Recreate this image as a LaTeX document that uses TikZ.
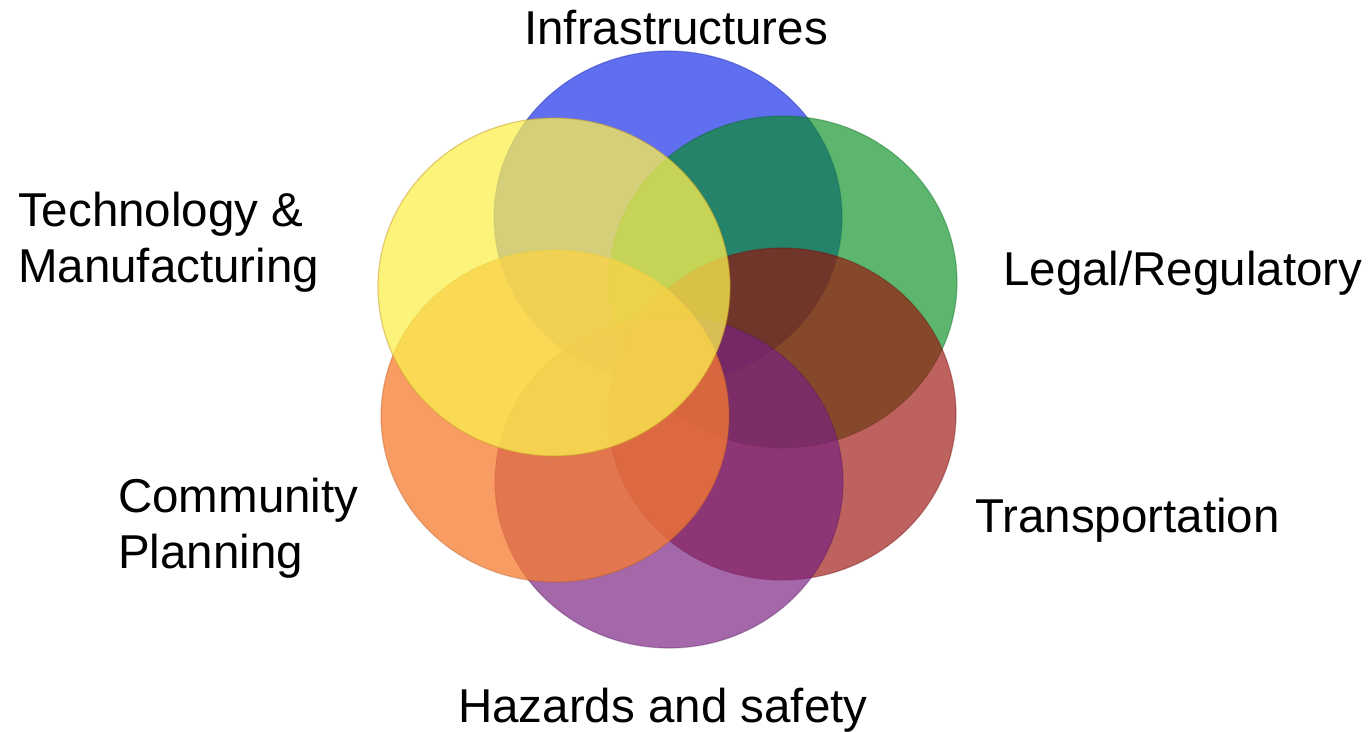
\documentclass[tikz,border=0pt]{standalone}
\usepackage{fontspec}
\usetikzlibrary{shapes.geometric}
\setmainfont{Liberation Sans}
\definecolor{cBlue}{RGB}{11,35,232}
\definecolor{cGreen}{RGB}{5,143,32}
\definecolor{cRed}{RGB}{155,14,9}
\definecolor{cPurple}{RGB}{121,33,130}
\definecolor{cOrange}{RGB}{248,123,48}
\definecolor{cYellow}{RGB}{251,240,80}
\tikzset{
  disc/.style={ellipse, minimum width=348pt, minimum height=332pt, inner sep=0pt,
    fill=#1, draw=#1!70!black, fill opacity=0.65, draw opacity=0.35, line width=1.2pt},
  lbl/.style={inner sep=0pt, align=left, font=\fontsize{47.5}{56}\selectfont, text=black}
}
\begin{document}
\begin{tikzpicture}[x=1pt,y=-1pt]
\useasboundingbox (0,0) rectangle (1370,731);
\fill[white] (0,0) rectangle (1370,731);
\node[disc=cBlue]   (infra)  at (668,217) {};
\node[disc=cGreen]  (legal)  at (783,282) {};
\node[disc=cRed]    (trans)  at (782,414) {};
\node[disc=cPurple, fill opacity=0.68] (hazard) at (669,482) {};
\node[disc=cOrange, fill opacity=0.75] (comm)   at (555,416) {};
\node[disc=cYellow, fill opacity=0.75, minimum width=352pt, minimum height=338pt,
      draw=cYellow!60!orange!80!black, draw opacity=0.5] (tech) at (554,287) {};
\node[lbl, anchor=base] (tInfra) at (676,44) {Infrastructures};
\node[lbl, anchor=base west] (tTech) at (18,282) {Technology \&\\Manufacturing};
\node[lbl, anchor=base west] (tLegal) at (1003,285) {Legal/Regulatory};
\node[lbl, anchor=base west] (tComm) at (118,568) {Community\\Planning};
\node[lbl, anchor=base west] (tTrans) at (975,532) {Transportation};
\node[lbl, anchor=base west] (tHaz) at (458,722) {Hazards and safety};
\end{tikzpicture}
\end{document}
